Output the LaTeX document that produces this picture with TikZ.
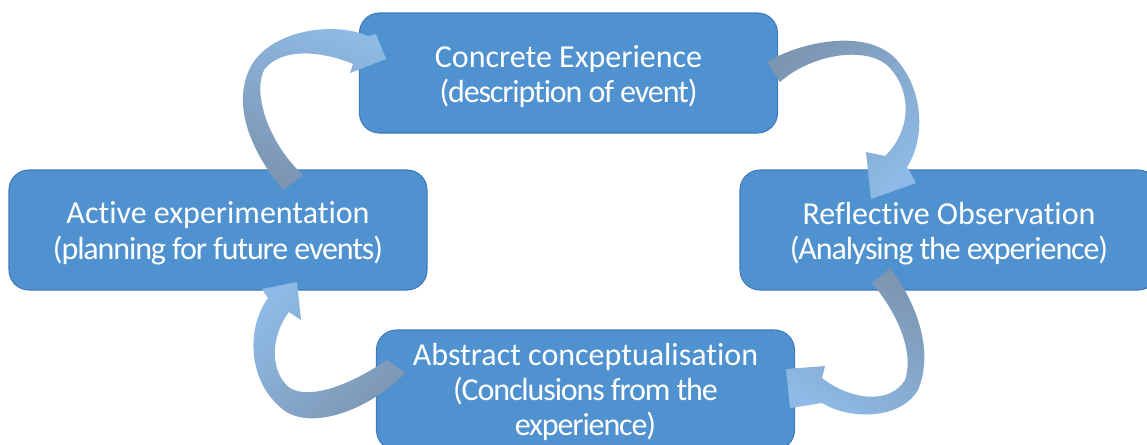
\documentclass[tikz,border=0pt]{standalone}
\usepackage{fontspec}
\setmainfont{Carlito}[Ligatures=NoCommon]
\newcommand\tightline{\addfontfeature{LetterSpace=-3.5}}
\definecolor{boxfill}{RGB}{80,146,208}
\definecolor{boxline}{RGB}{62,122,188}
\definecolor{arrlight}{RGB}{142,186,229}
\definecolor{arrdark}{RGB}{124,149,176}
\begin{document}
\begin{tikzpicture}[x=0.75pt,y=-0.75pt,
  stage/.style={draw=boxline, line width=0.8pt, fill=boxfill, rounded corners=15pt,
    minimum width=313.5pt, minimum height=90pt, inner sep=0pt},
  stagetext/.style={text=white, align=center,
    font=\fontsize{24}{26.5}\selectfont, inner sep=0pt},
  arrowband/.style={draw=none}]
\useasboundingbox (0,0) rectangle (1147,444);
\clip (0,0) rectangle (1147,444);
\fill[white] (0,0) rectangle (1147,444);
\node[stage] (ce) at (568.5,73) {};
\node[stage] (ae) at (218,230) {};
\node[stage] (ro) at (949,230) {};
\node[stage] (ac) at (585.5,390) {};
\node[stagetext] (cet) at ([yshift=-2.5pt]ce.center) {Concrete Experience\\{\tightline(description of event)}};
\node[stagetext] (aet) at ([yshift=-2.5pt]ae.center) {Active experimentation\\{\tightline(planning for future events)}};
\node[stagetext] (rot) at ([yshift=-2.5pt]ro.center) {Reflective Observation\\{\tightline(Analysing the experience)}};
\node[stagetext] (act) at ([yshift=-1.5pt]ac.center) {Abstract conceptualisation\\{\tightline(Conclusions from the}\\{\tightline experience)}};
% arrow: active -> concrete
\shade[arrowband, top color=arrlight, bottom color=arrdark, shading angle=-20]
 (283,190) .. controls (250,150) and (232,105) .. (250,68)
 .. controls (268,32) and (330,20) .. (368,36)
 -- (376,34) -- (386,59) -- (350,73) -- (353,64)
 .. controls (320,50) and (280,48) .. (264,70)
 .. controls (252,95) and (270,145) .. (303,175) -- cycle;
% arrow: concrete -> reflective
\shade[arrowband, top color=arrdark, bottom color=arrlight, shading angle=45]
 (767,62) .. controls (800,42) and (865,28) .. (895,58)
 .. controls (925,90) and (925,140) .. (907,167)
 -- (916,183) -- (871,199) -- (866,152) -- (885,156)
 .. controls (912,130) and (912,90) .. (888,66)
 .. controls (865,45) and (810,55) .. (780,82) -- cycle;
% arrow: reflective -> abstract
\shade[arrowband, top color=arrdark, bottom color=arrlight, shading angle=-30]
 (890,268) .. controls (915,300) and (935,350) .. (918,390)
 .. controls (900,420) and (850,420) .. (822,403)
 -- (790,408) -- (786,369) -- (825,366) -- (822,378)
 .. controls (850,400) and (890,405) .. (905,380)
 .. controls (915,350) and (895,310) .. (872,283) -- cycle;
% arrow: abstract -> active
\shade[arrowband, top color=arrlight, bottom color=arrdark, shading angle=45]
 (405,373) .. controls (370,410) and (305,435) .. (278,405)
 .. controls (250,380) and (245,330) .. (268,298)
 -- (262,289) -- (297,282) -- (301,320) -- (289,312)
 .. controls (268,340) and (272,375) .. (290,388)
 .. controls (310,400) and (350,385) .. (387,360) -- cycle;
\end{tikzpicture}
\end{document}
